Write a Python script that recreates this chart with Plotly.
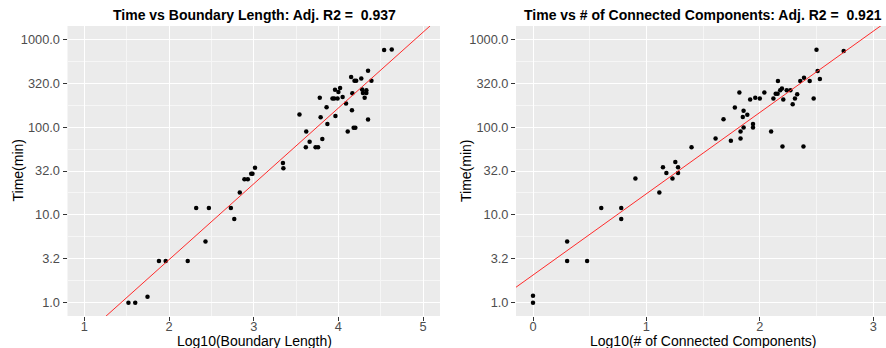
import numpy as np
import plotly.graph_objects as go

# ---- data ----
# Left panel: log10(boundary length) vs time (min)
bl_log10 = [1.52, 1.60, 1.745, 1.88, 1.96, 2.22, 2.32, 2.43, 2.47, 2.73, 2.77, 2.835, 2.89, 2.93,
            2.97, 2.985, 3.015, 3.345, 3.35,
            3.54, 3.615, 3.62, 3.66, 3.73, 3.76, 3.78, 3.79, 3.81, 3.86, 3.87, 3.93, 3.95, 3.96,
            3.965, 3.99, 4.0, 4.02, 4.05, 4.09, 4.11, 4.15, 4.16, 4.165, 4.18, 4.19, 4.20, 4.21,
            4.27, 4.28, 4.29, 4.31, 4.33, 4.33, 4.35, 4.35, 4.39, 4.54, 4.63]
bl_time = [1.0, 1.0, 1.17, 3.0, 3.0, 3.0, 12, 5, 12, 12, 9, 18, 25.5, 25.5,
           29.4, 29.4, 34.5, 39, 34,
           139, 59, 89, 68, 59, 59, 215, 129, 73, 168, 108, 211, 211, 265,
           134, 211, 251, 279, 220, 185, 89, 371, 155, 242, 98, 337, 98, 337,
           358, 267, 244, 215, 263, 244, 437, 122, 337, 752, 764]

# Right panel: log10(# of connected components) vs time (min)
cc_log10 = [0, 0, 0.301, 0.301, 0.477, 0.602, 0.778, 0.778, 0.903, 1.114, 1.146, 1.176, 1.23,
            1.255, 1.279, 1.279, 1.398,
            1.61, 1.68, 1.745, 1.78, 1.82, 1.83, 1.83, 1.85, 1.857, 1.857, 1.89, 1.915, 1.94,
            1.94, 1.96, 2.0, 2.04, 2.10, 2.12, 2.14, 2.157, 2.16, 2.18, 2.195, 2.20, 2.207,
            2.237, 2.27, 2.29, 2.31, 2.33, 2.357, 2.385, 2.39, 2.44, 2.475, 2.50, 2.51, 2.53, 2.74]
cc_time = [1.2, 1.0, 5, 3, 3, 12, 12, 9, 26, 18, 35, 30, 26,
           40, 35, 30, 59,
           74, 123, 70, 167, 247, 89, 74, 130, 153, 99, 138, 206, 108,
           99, 216, 211, 247, 89, 211, 240, 240, 335, 263, 275, 60, 206,
           263, 263, 182, 211, 237, 335, 60, 365, 335, 211, 759, 434, 353, 733]

titles = ["Time vs Boundary Length: Adj. R2 =  0.937",
          "Time vs # of Connected Components: Adj. R2 =  0.921"]
x_titles = ["Log10(Boundary Length)", "Log10(# of Connected Components)"]
y_title = "Time(min)"

y_tick_vals = [1, 10 ** 0.5, 10, 10 ** 1.5, 100, 10 ** 2.5, 1000]
y_tick_text = ["1.0", "3.2", "10.0", "32.0", "100.0", "320.0", "1000.0"]
y_minor_vals = [10 ** v for v in (0.25, 0.75, 1.25, 1.75, 2.25, 2.75)]

left_x_ticks = [1, 2, 3, 4, 5]
left_x_minor = [1.5, 2.5, 3.5, 4.5]
right_x_ticks = [0, 1, 2, 3]
right_x_minor = [0.5, 1.5, 2.5]

# ---- layout geometry ----
W, H = 886, 348
left_dom = [67.5 / W, 440 / W]
right_dom = [516 / W, 1.0]
y_dom = [1 - 316 / H, 1 - 26 / H]
left_range = [0.8, 5.2]
right_range = [-0.15, 3.113]
y_range = [-0.15, 3.15]

FONT = "Liberation Sans, Arial, sans-serif"
PANEL = "#EBEBEB"

fig = go.Figure()


def add_panel(xs, ts, xaxis, yaxis, xr):
    fig.add_trace(go.Scatter(x=xs, y=ts, mode="markers", xaxis=xaxis, yaxis=yaxis,
                             marker=dict(color="black", size=4.5, line=dict(width=0)),
                             showlegend=False, hoverinfo="skip"))
    b, a = np.polyfit(np.array(xs, float), np.log10(np.array(ts, float)), 1)
    lx = np.array([xr[0], xr[1]])
    fig.add_trace(go.Scatter(x=lx, y=10 ** (a + b * lx), mode="lines", xaxis=xaxis, yaxis=yaxis,
                             line=dict(color="#FF2A2A", width=1),
                             showlegend=False, hoverinfo="skip"))


add_panel(bl_log10, bl_time, "x", "y", left_range)
add_panel(cc_log10, cc_time, "x2", "y2", right_range)

common = dict(showline=False, zeroline=False, showgrid=True, gridcolor="white", gridwidth=1.1,
              ticks="outside", ticklen=4, tickwidth=1, tickcolor="#333333",
              tickfont=dict(family=FONT, size=12.8, color="#4D4D4D"))
minor_style = dict(showgrid=True, gridcolor="#F6F6F6", gridwidth=0.6, ticks="")

fig.update_layout(
    width=W, height=H, autosize=False,
    margin=dict(l=0, r=0, t=0, b=0),
    paper_bgcolor="white", plot_bgcolor=PANEL,
    xaxis=dict(domain=left_dom, range=left_range, anchor="y", ticklabelstandoff=-5,
               tickmode="array", tickvals=left_x_ticks, ticktext=[str(v) for v in left_x_ticks],
               minor=dict(tickmode="array", tickvals=left_x_minor, **minor_style),
               **common),
    yaxis=dict(domain=y_dom, type="log", range=y_range, anchor="x",
               tickmode="array", tickvals=y_tick_vals, ticktext=y_tick_text,
               minor=dict(tickmode="array", tickvals=y_minor_vals, **minor_style),
               **common),
    xaxis2=dict(domain=right_dom, range=right_range, anchor="y2", ticklabelstandoff=-5,
                tickmode="array", tickvals=right_x_ticks, ticktext=[str(v) for v in right_x_ticks],
                minor=dict(tickmode="array", tickvals=right_x_minor, **minor_style),
                **common),
    yaxis2=dict(domain=y_dom, type="log", range=y_range, anchor="x2",
                tickmode="array", tickvals=y_tick_vals, ticktext=y_tick_text,
                minor=dict(tickmode="array", tickvals=y_minor_vals, **minor_style),
                **common),
)


def ann(text, px, py, size, bold=False, angle=0):
    fig.add_annotation(text=f"<b>{text}</b>" if bold else text,
                       x=px / W, y=1 - py / H, xref="paper", yref="paper",
                       xanchor="center", yanchor="middle", showarrow=False, textangle=angle,
                       font=dict(family=FONT, size=size, color="black"))


ann(titles[0], 254, 15, 14, bold=True)
ann(titles[1], 703, 15, 14, bold=True)
ann(x_titles[0], 254, 341, 14)
ann(x_titles[1], 703, 341, 14)
ann(y_title, 17.5, 171, 14, angle=-90)
ann(y_title, 466, 171, 14, angle=-90)

fig.write_html("out.html")
